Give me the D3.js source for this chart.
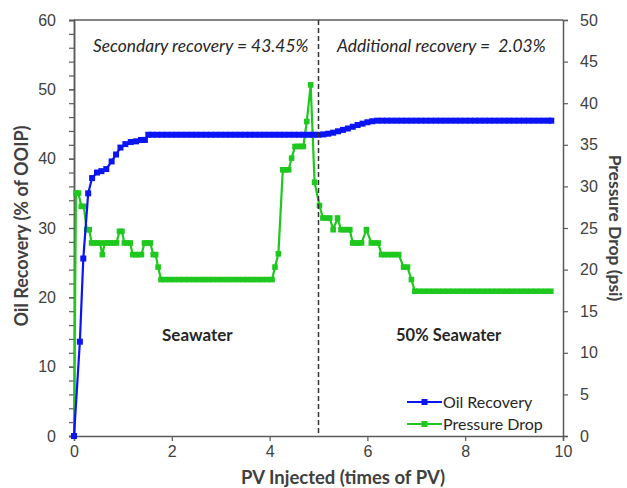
<!DOCTYPE html>
<html>
<head>
<meta charset="utf-8">
<script src="https://cdn.jsdelivr.net/npm/d3@7"></script>
<style>
  html, body { margin: 0; padding: 0; background: #fff; }
  svg { display: block; font-family: Lato, "Open Sans", sans-serif; }
</style>
</head>
<body>
<svg id="chart" width="627" height="488"></svg>
<script>
// Oil recovery (% of OOIP) against injected pore volumes
const oilPV = [0, 0.12, 0.19, 0.29, 0.37, 0.47, 0.56, 0.66, 0.77, 0.86, 0.95, 1.05, 1.16, 1.27, 1.37, 1.45,
  1.52, 1.6, 1.7, 1.8, 1.9, 2.0, 2.1, 2.2, 2.3, 2.4, 2.5, 2.6, 2.7, 2.8, 2.9, 3.0, 3.1, 3.2, 3.3, 3.4, 3.5,
  3.6, 3.7, 3.8, 3.9, 4.0, 4.1, 4.2, 4.3, 4.4, 4.5, 4.6, 4.7, 4.8, 4.9,
  5.0, 5.1, 5.2, 5.3, 5.4, 5.5, 5.6, 5.7, 5.8, 5.9, 6.0, 6.1, 6.2,
  6.3, 6.4, 6.5, 6.6, 6.7, 6.8, 6.9, 7.0, 7.1, 7.2, 7.3, 7.4, 7.5, 7.6, 7.7, 7.8, 7.9, 8.0, 8.1, 8.2,
  8.3, 8.4, 8.5, 8.6, 8.7, 8.8, 8.9, 9.0, 9.1, 9.2, 9.3, 9.4, 9.5, 9.6, 9.7, 9.76];
const oilRecovery = [0, 13.6, 25.6, 35.0, 37.2, 38.0, 38.2, 38.5, 39.6, 40.6, 41.6, 42.1, 42.4, 42.5, 42.7, 42.7,
  43.45, 43.45, 43.45, 43.45, 43.45, 43.45, 43.45, 43.45, 43.45, 43.45, 43.45, 43.45, 43.45, 43.45, 43.45,
  43.45, 43.45, 43.45, 43.45, 43.45, 43.45, 43.45, 43.45, 43.45, 43.45, 43.45, 43.45, 43.45, 43.45, 43.45,
  43.45, 43.45, 43.45, 43.45, 43.45,
  43.45, 43.5, 43.6, 43.75, 43.95, 44.15, 44.35, 44.6, 44.85, 45.05, 45.25, 45.4, 45.48,
  45.48, 45.48, 45.48, 45.48, 45.48, 45.48, 45.48, 45.48, 45.48, 45.48, 45.48, 45.48, 45.48, 45.48, 45.48,
  45.48, 45.48, 45.48, 45.48, 45.48, 45.48, 45.48, 45.48, 45.48, 45.48, 45.48, 45.48, 45.48, 45.48, 45.48,
  45.48, 45.48, 45.48, 45.48, 45.48, 45.48];

// Pressure drop (psi) against injected pore volumes
const dpPV = [0, 0.04, 0.09, 0.15, 0.2, 0.26, 0.31, 0.36, 0.42, 0.48, 0.53, 0.58, 0.63, 0.69, 0.75, 0.81, 0.87,
  0.93, 0.98, 1.03, 1.09, 1.15, 1.2, 1.26, 1.32, 1.38, 1.44, 1.5, 1.56, 1.62, 1.67, 1.72, 1.78,
  1.85, 1.95, 2.05, 2.15, 2.25, 2.35, 2.45, 2.55, 2.65, 2.75, 2.85, 2.95, 3.05, 3.15, 3.25, 3.35, 3.45,
  3.55, 3.65, 3.75, 3.85, 3.95, 4.05,
  4.11, 4.18, 4.27, 4.33, 4.39, 4.45, 4.52, 4.58, 4.64, 4.69, 4.76, 4.84, 4.92, 5.02, 5.09, 5.16, 5.23,
  5.3, 5.39, 5.46, 5.52, 5.58, 5.64, 5.7, 5.76, 5.82, 5.88, 5.98, 6.08, 6.15, 6.22, 6.29, 6.36, 6.43,
  6.5, 6.57, 6.64, 6.74, 6.82, 6.9, 6.97,
  7.05, 7.15, 7.25, 7.35, 7.45, 7.55, 7.65, 7.75, 7.85, 7.95, 8.05, 8.15, 8.25, 8.35, 8.45, 8.55, 8.65,
  8.75, 8.85, 8.95, 9.05, 9.15, 9.25, 9.35, 9.45, 9.55, 9.65, 9.75];
const pressureDrop = [0, 29.2, 29.2, 27.6, 27.6, 24.8, 24.8, 23.2, 23.2, 23.2, 23.2, 21.8, 23.2, 23.2, 23.2, 23.2, 23.2,
  24.6, 24.6, 23.2, 23.2, 23.2, 21.8, 21.8, 21.8, 21.8, 23.2, 23.2, 23.2, 21.8, 21.8, 20.3, 18.8,
  18.8, 18.8, 18.8, 18.8, 18.8, 18.8, 18.8, 18.8, 18.8, 18.8, 18.8, 18.8, 18.8, 18.8, 18.8, 18.8, 18.8,
  18.8, 18.8, 18.8, 18.8, 18.8, 18.8,
  20.3, 21.9, 32.0, 32.0, 32.0, 33.4, 34.8, 34.8, 34.8, 34.8, 37.8, 42.2, 30.5, 27.7, 26.2, 26.2, 26.2,
  24.8, 26.2, 24.8, 24.8, 24.8, 24.8, 23.2, 23.2, 23.2, 23.2, 24.8, 23.2, 23.2, 23.2, 21.8, 21.8, 21.8,
  21.8, 21.8, 21.8, 20.3, 20.3, 18.8, 17.4,
  17.4, 17.4, 17.4, 17.4, 17.4, 17.4, 17.4, 17.4, 17.4, 17.4, 17.4, 17.4, 17.4, 17.4, 17.4, 17.4, 17.4,
  17.4, 17.4, 17.4, 17.4, 17.4, 17.4, 17.4, 17.4, 17.4, 17.4, 17.4];

// Axis ticks
const xTicks = [0, 2, 4, 6, 8, 10];
const leftTicks = [0, 10, 20, 30, 40, 50, 60];
const leftMinorTicks = [0, 2, 4, 6, 8, 10, 12, 14, 16, 18, 20, 22, 24, 26, 28, 30, 32, 34, 36, 38, 40,
  42, 44, 46, 48, 50, 52, 54, 56, 58, 60];
const rightTicks = [0, 5, 10, 15, 20, 25, 30, 35, 40, 45, 50];
const switchPV = 5;

const seriesNames = ["Oil Recovery", "Pressure Drop"];
const colors = { oil: "#0a14f5", dp: "#1ec81e" };

const svg = d3.select("#chart");
const plot = { left: 74, right: 563, top: 20, bottom: 436 };

const x = d3.scaleLinear().domain([0, 10]).range([plot.left, plot.right]);
const yL = d3.scaleLinear().domain([0, 60]).range([plot.bottom, plot.top]);
const yR = d3.scaleLinear().domain([0, 50]).range([plot.bottom, plot.top]);

const axisColor = "#5a5a5a";
const labelColor = "#404040";

// top frame line
svg.append("line")
  .attr("x1", plot.left).attr("x2", plot.right)
  .attr("y1", plot.top).attr("y2", plot.top)
  .attr("stroke", axisColor).attr("stroke-width", 1.5);

function styleAxis(g) {
  g.select(".domain").attr("stroke", axisColor).attr("stroke-width", 1.5);
  g.selectAll(".tick line").attr("stroke", axisColor).attr("stroke-width", 1.2);
  g.selectAll(".tick text").attr("fill", labelColor).style("font-size", "16px");
}

// left axis: minor ticks then labelled majors
svg.append("g").attr("transform", `translate(${plot.left},0)`)
  .call(d3.axisLeft(yL).tickValues(leftMinorTicks).tickSize(5).tickFormat(""))
  .call(styleAxis);
svg.append("g").attr("transform", `translate(${plot.left},0)`)
  .call(d3.axisLeft(yL).tickValues(leftTicks).tickSize(5).tickPadding(13).tickFormat(d3.format("d")))
  .call(styleAxis);

svg.append("g").attr("transform", `translate(${plot.right},0)`)
  .call(d3.axisRight(yR).tickValues(rightTicks).tickSize(5).tickPadding(12).tickFormat(d3.format("d")))
  .call(styleAxis);

svg.append("g").attr("transform", `translate(0,${plot.bottom})`)
  .call(d3.axisBottom(x).tickValues(xTicks).tickSize(5).tickPadding(5).tickFormat(d3.format("d")))
  .call(styleAxis);

// axis titles
svg.append("text")
  .attr("transform", `translate(28,${(plot.top + plot.bottom) / 2 - 2}) rotate(-90)`)
  .attr("text-anchor", "middle")
  .attr("fill", labelColor).style("font-size", "18px").style("font-weight", "bold")
  .text("Oil Recovery (% of OOIP)");
svg.append("text")
  .attr("transform", `translate(609,${(plot.top + plot.bottom) / 2}) rotate(90)`)
  .attr("text-anchor", "middle")
  .attr("fill", labelColor).style("font-size", "17.5px").style("font-weight", "bold")
  .text("Pressure Drop (psi)");
svg.append("text")
  .attr("x", 343).attr("y", 484)
  .attr("text-anchor", "middle")
  .attr("fill", labelColor).style("font-size", "18.5px").style("font-weight", "bold")
  .text("PV Injected (times of PV)");

// series
const dpData = dpPV.map((d, i) => [d, pressureDrop[i]]);
const oilData = oilPV.map((d, i) => [d, oilRecovery[i]]);

svg.append("path")
  .datum(dpData)
  .attr("fill", "none").attr("stroke", colors.dp).attr("stroke-width", 2.2)
  .attr("d", d3.line().x(d => x(d[0])).y(d => yR(d[1])));
svg.append("g").selectAll("rect").data(dpData).join("rect")
  .attr("x", d => x(d[0]) - 2.8).attr("y", d => yR(d[1]) - 2.8)
  .attr("width", 5.6).attr("height", 5.6)
  .attr("fill", colors.dp);

svg.append("path")
  .datum(oilData)
  .attr("fill", "none").attr("stroke", colors.oil).attr("stroke-width", 2.2)
  .attr("d", d3.line().x(d => x(d[0])).y(d => yL(d[1])));
svg.append("g").selectAll("rect").data(oilData).join("rect")
  .attr("x", d => x(d[0]) - 3).attr("y", d => yL(d[1]) - 3)
  .attr("width", 6).attr("height", 6)
  .attr("fill", colors.oil);

// injection switch marker
svg.append("line")
  .attr("x1", x(switchPV)).attr("x2", x(switchPV))
  .attr("y1", plot.top).attr("y2", plot.bottom)
  .attr("stroke", "#333").attr("stroke-width", 1.5)
  .attr("stroke-dasharray", "5,3");

// annotations
const noteColor = "#262626";
svg.append("text").attr("x", 93).attr("y", 52)
  .attr("fill", noteColor).style("font-size", "17.4px").style("font-style", "italic")
  .text("Secondary recovery = 43.45%");
svg.append("text").attr("x", 337).attr("y", 52)
  .attr("fill", noteColor).style("font-size", "17.4px").style("font-style", "italic")
  .attr("xml:space", "preserve")
  .text("Additional recovery =  2.03%");
svg.append("text").attr("x", 162).attr("y", 341)
  .attr("fill", noteColor).style("font-size", "17px").style("font-weight", "bold")
  .text("Seawater");
svg.append("text").attr("x", 396).attr("y", 341)
  .attr("fill", noteColor).style("font-size", "16.5px").style("font-weight", "bold")
  .text("50% Seawater");

// legend
const legend = svg.append("g");
[[colors.oil, 402], [colors.dp, 424]].forEach(([c, ly], i) => {
  legend.append("line").attr("x1", 407).attr("x2", 442).attr("y1", ly).attr("y2", ly)
    .attr("stroke", c).attr("stroke-width", 2.2);
  legend.append("rect").attr("x", 424.5 - 3).attr("y", ly - 3).attr("width", 6).attr("height", 6).attr("fill", c);
  legend.append("text").attr("x", 443).attr("y", ly + 5.5)
    .attr("fill", noteColor).style("font-size", "16px")
    .text(seriesNames[i]);
});
</script>
</body>
</html>
